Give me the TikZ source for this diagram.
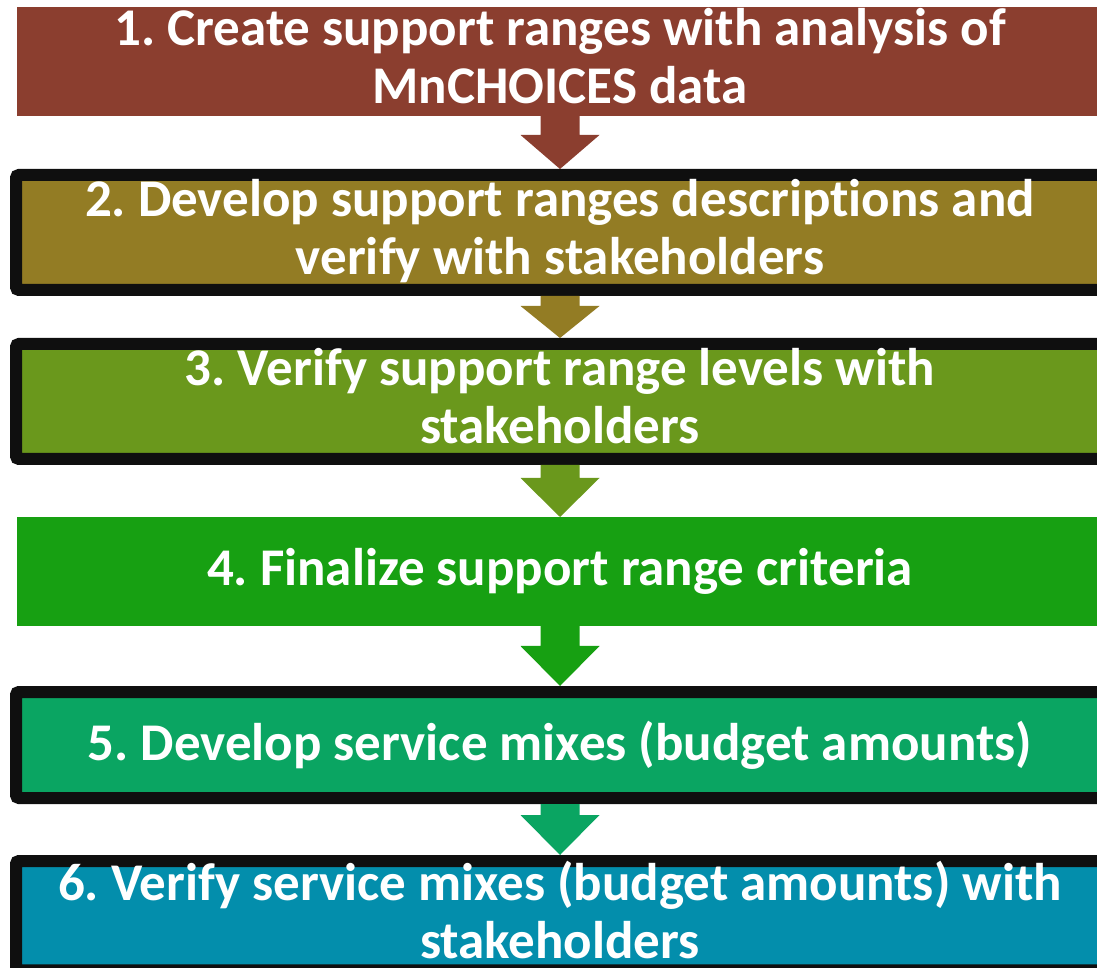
\documentclass[tikz,border=0pt]{standalone}
\usepackage{fontspec}
\setmainfont{Carlito}[Ligatures=NoCommon]
\usetikzlibrary{positioning,calc}
\frenchspacing

\definecolor{stepone}{RGB}{139,62,47}
\definecolor{steptwo}{RGB}{147,124,36}
\definecolor{stepthree}{RGB}{106,152,28}
\definecolor{stepfour}{RGB}{23,160,18}
\definecolor{stepfive}{RGB}{10,165,98}
\definecolor{stepsix}{RGB}{3,142,172}
\definecolor{rim}{RGB}{15,15,15}
\newcommand{\lastpad}{\rule[-12pt]{0pt}{0pt}}

\begin{document}
\begin{tikzpicture}[x=1pt,y=1pt,
					font=\fontsize{53}{58}\selectfont\bfseries,
					stage/.style={rectangle,inner sep=0pt,outer sep=0pt,
						minimum width=1086pt,text=white,align=center},
					framed stage/.style={stage,draw=rim,line width=12pt,outer sep=6pt,
						rounded corners=3pt,minimum width=1088pt}]

  \useasboundingbox (0,0) rectangle (1097,967);

  \node[stage,fill=stepone,minimum height=109pt] (s1) at (560,905.5)
    {1. Create support ranges with analysis of\\MnCHOICES data\lastpad};
  \node[framed stage,fill=steptwo,minimum height=115pt] (s2) [below=53pt of s1]
    {2. Develop support ranges descriptions and\\verify with stakeholders\lastpad};
  \node[framed stage,fill=stepthree,minimum height=115pt] (s3) [below=42pt of s2]
    {3. Verify support range levels with\\stakeholders\lastpad};
  \node[stage,fill=stepfour,minimum height=109pt] (s4) [below=52pt of s3]
    {4. Finalize support range criteria};
  \node[framed stage,fill=stepfive,minimum height=106pt] (s5) [below=60pt of s4]
    {5. Develop service mixes (budget amounts)};
  \node[framed stage,fill=stepsix,minimum height=107pt] (s6) [below=51pt of s5]
    {6. Verify service mixes (budget amounts) with\\stakeholders\lastpad};

  % block arrows between the stages
  \foreach \a/\b/\c/\h in {s1/s2/stepone/34,s2/s3/steptwo/32,s3/s4/stepthree/39,
                           s4/s5/stepfour/40,s5/s6/stepfive/40}
    \fill[\c] ($(\a.south)+(-19.5,0)$) -- ($(\b.north)+(-19.5,\h)$)
      -- ($(\b.north)+(-39.5,\h)$) -- (\b.north) -- ($(\b.north)+(39.5,\h)$)
      -- ($(\b.north)+(19.5,\h)$) -- ($(\a.south)+(19.5,0)$) -- cycle;
\end{tikzpicture}
\end{document}
